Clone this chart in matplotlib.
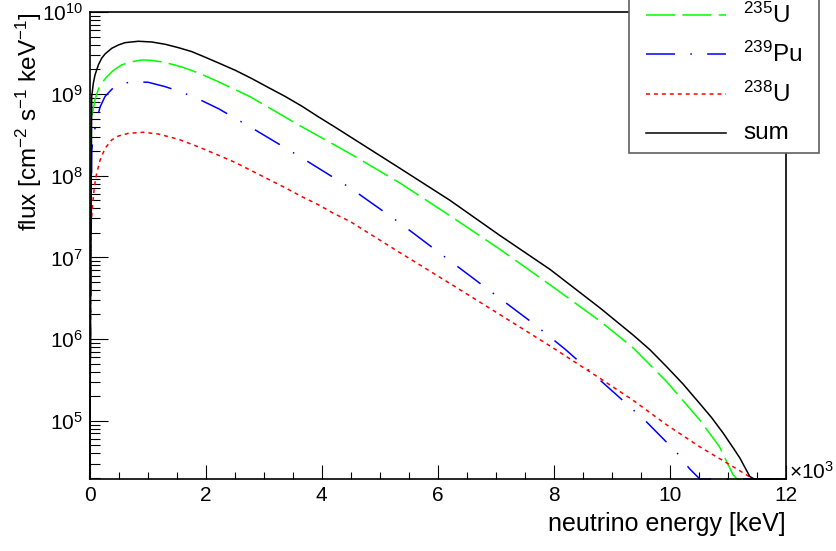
import numpy as np
import matplotlib
matplotlib.use('Agg')
import matplotlib.pyplot as plt
from matplotlib.ticker import LogLocator, NullFormatter, MultipleLocator
from matplotlib.patches import Rectangle
from matplotlib.lines import Line2D

plt.rcParams['font.family'] = ['Liberation Sans', 'DejaVu Sans']
plt.rcParams['mathtext.fontset'] = 'custom'
plt.rcParams['mathtext.rm'] = 'Liberation Sans'
plt.rcParams['mathtext.it'] = 'Liberation Sans:italic'
plt.rcParams['mathtext.bf'] = 'Liberation Sans:bold'

# neutrino energy in units of 10^3 keV, flux in cm^-2 s^-1 keV^-1
e_u235 = [0.0, 0.022, 0.045, 0.091, 0.149, 0.206, 0.293, 0.41, 0.55, 0.72, 0.90, 1.07,
          1.30, 1.59, 1.90, 2.22, 2.76, 3.63, 4.49, 5.35, 6.21, 7.07, 7.94, 8.80, 9.37,
          9.95, 10.52, 10.86, 11.09, 11.16, 12.0]
flux_u235 = [0, 3.98e8, 5.75e8, 8.51e8, 1.15e9, 1.35e9, 1.62e9, 1.95e9, 2.27e9, 2.48e9,
             2.61e9, 2.58e9, 2.43e9, 2.14e9, 1.78e9, 1.41e9, 9.3e8, 4.07e8, 1.86e8, 8.13e7,
             3.24e7, 1.26e7, 4.6e6, 1.66e6, 7.8e5, 3.0e5, 1.02e5, 4.8e4, 2.2e4, 0, 0]

e_pu239 = [0.0, 0.034, 0.062, 0.12, 0.178, 0.264, 0.41, 0.55, 0.78, 1.01, 1.30, 1.59, 1.90,
           2.22, 2.76, 3.63, 4.49, 5.35, 6.21, 7.07, 7.65, 8.19, 8.51, 9.08, 9.60, 10.12,
           10.34, 10.47, 10.52, 12.0]
flux_pu239 = [0, 2.04e8, 3.02e8, 4.79e8, 6.92e8, 9.33e8, 1.20e9, 1.35e9, 1.41e9, 1.39e9,
              1.23e9, 1.05e9, 8.51e8, 6.61e8, 3.98e8, 1.7e8, 7.1e7, 2.63e7, 9.1e6, 3.16e6,
              1.55e6, 7.59e5, 4.79e5, 2.09e5, 9.7e4, 4.1e4, 2.6e4, 2.1e4, 0, 0]

e_u238 = [0.0, 0.022, 0.045, 0.08, 0.12, 0.178, 0.264, 0.379, 0.494, 0.666, 0.924, 1.18,
          1.53, 1.87, 2.22, 2.51, 2.79, 3.08, 3.37, 3.66, 3.94, 4.20, 4.49, 5.30, 6.21,
          7.07, 7.99, 8.80, 9.37, 9.95, 10.52, 11.09, 11.41, 11.47, 12.0]
flux_u238 = [0, 2.38e7, 4.17e7, 7.33e7, 1.07e8, 1.55e8, 2.16e8, 2.74e8, 3.06e8, 3.30e8,
             3.40e8, 3.24e8, 2.79e8, 2.26e8, 1.78e8, 1.45e8, 1.15e8, 9.04e7, 7.13e7,
             5.53e7, 4.42e7, 3.47e7, 2.75e7, 1.2e7, 4.8e6, 2.0e6, 7.8e5, 3.3e5, 1.78e5,
             8.9e4, 4.8e4, 2.75e4, 2.0e4, 0, 0]

e_sum = [0.0, 0.034, 0.062, 0.091, 0.149, 0.206, 0.264, 0.379, 0.494, 0.609, 0.839, 1.069,
         1.30, 1.53, 1.76, 1.99, 2.22, 2.51, 2.79, 3.08, 3.37, 3.66, 3.94, 4.23, 4.49, 5.35,
         6.21, 7.07, 7.94, 8.80, 9.37, 9.66, 9.95, 10.23, 10.52, 10.72, 10.92, 11.10, 11.21,
         11.38, 11.45, 12.0]
flux_sum = [0, 9.27e8, 1.35e9, 1.71e9, 2.27e9, 2.74e9, 3.09e9, 3.62e9, 3.98e9, 4.25e9,
            4.42e9, 4.33e9, 4.06e9, 3.69e9, 3.30e9, 2.82e9, 2.40e9, 1.95e9, 1.55e9, 1.20e9,
            9.33e8, 7.08e8, 5.27e8, 3.93e8, 3.0e8, 1.23e8, 5.0e7, 1.86e7, 7.1e6, 2.4e6,
            1.12e6, 7.4e5, 4.57e5, 2.82e5, 1.62e5, 1.10e5, 7.1e4, 4.6e4, 3.5e4, 2.09e4, 0, 0]

labels = [r'$^{235}$U', r'$^{239}$Pu', r'$^{238}$U', 'sum']

Y_MIN, Y_MAX = 1.94e4, 1e10
LW = 1.1
styles = [
    dict(color='#00ff00', ls=(0, (19, 4.8))),
    dict(color='#0000ff', ls=(0, (19, 10, 1, 10))),
    dict(color='#ff0000', ls=(0, (2.6, 2.6))),
    dict(color='black', ls='-'),
]

fig = plt.figure(figsize=(8.37, 5.51), dpi=100)
ax = fig.add_axes([0.1072, 0.1307, 0.8315, 0.847])

# empty bins sit on the lower edge of the frame
series = [(e_u235, flux_u235), (e_pu239, flux_pu239), (e_u238, flux_u238), (e_sum, flux_sum)]
for (e, f), st in zip(series, styles):
    f = np.clip(np.asarray(f, dtype=float), Y_MIN, None)
    ax.plot(e, f, lw=LW, clip_on=False, **st)

ax.set_yscale('log')
ax.set_xlim(0, 12)
ax.set_ylim(Y_MIN, Y_MAX)

ax.xaxis.set_major_locator(MultipleLocator(2))
ax.xaxis.set_minor_locator(MultipleLocator(0.5))
ax.yaxis.set_major_locator(LogLocator(base=10, numticks=20))
ax.yaxis.set_minor_locator(LogLocator(base=10, subs=np.arange(2, 10), numticks=20))
ax.yaxis.set_minor_formatter(NullFormatter())

ax.tick_params(which='both', direction='in', top=False, right=False, width=0.8)
ax.tick_params(axis='y', which='major', length=13, labelsize=15, pad=5)
ax.tick_params(axis='y', which='minor', length=7)
ax.tick_params(axis='x', which='major', length=10, labelsize=15, pad=5)
ax.tick_params(axis='x', which='minor', length=5)
for s in ax.spines.values():
    s.set_linewidth(1.2)

ax.set_xlabel('neutrino energy [keV]', fontsize=18, loc='right')
ax.xaxis.set_label_coords(1.0, -0.097)
ax.xaxis.label.set_va('center')
ax.set_ylabel(r'flux [cm$^{-2}$ s$^{-1}$ keV$^{-1}$]', fontsize=17.5, loc='top')
ax.yaxis.set_label_coords(-0.088, 1.0)
ax.yaxis.label.set_va('center')

ax.text(1.0047, 0.0, '×10$^{3}$', transform=ax.transAxes, fontsize=15,
        ha='left', va='baseline')

# legend box, runs off the top of the canvas
W, H = 837, 551
box = Rectangle((629 / W, 1 - 152.7 / H), 190 / W, 0.4, transform=fig.transFigure,
                facecolor='white', edgecolor='#606060', lw=1.2, clip_on=False, zorder=3)
fig.add_artist(box)
for k, (lab, st) in enumerate(zip(labels, styles)):
    y = 1 - (15 + 39.4 * k) / H
    fig.add_artist(Line2D([646 / W, 726 / W], [y, y], transform=fig.transFigure,
                          lw=LW, zorder=4, **st))
    fig.text(743 / W, y, lab, fontsize=17.5, va='center', ha='left', zorder=4)

fig.savefig('out.png', dpi=100)
